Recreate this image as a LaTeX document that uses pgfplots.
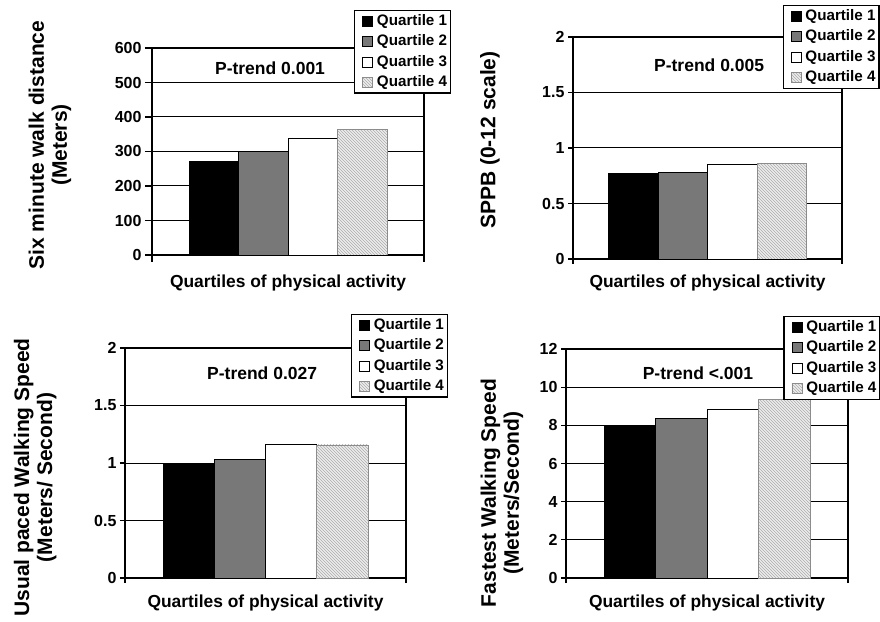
\documentclass[border=0pt]{standalone}
\usepackage{fontspec}
\setmainfont{Liberation Sans}
\usepackage{pgfplots}
\pgfplotsset{compat=1.18}
\usetikzlibrary{patterns}
\definecolor{qgray}{gray}{0.47}
\definecolor{qlight}{gray}{0.93}
\definecolor{qedge}{gray}{0.55}
\tikzset{ptrend/.style={font=\fontsize{17.5}{17.5}\selectfont\bfseries}}
\pgfplotsset{
  sqleg/.style={legend image code/.code={\path (-5pt,0pt) (13pt,0pt);\draw[##1,line width=0.8pt] (0pt,-5pt) rectangle (10pt,5pt);}},
  q1/.style={fill=black, draw=black, line width=0.8pt},
  q2/.style={fill=qgray, draw=black, line width=0.8pt},
  q3/.style={fill=white, draw=black, line width=0.8pt},
  q4/.style={fill=qlight, draw=qedge, line width=0.8pt, postaction={pattern=north west lines, pattern color=gray!65}},
  panel/.style={
    scale only axis, anchor=south west,
    ybar=0pt,
    every axis plot post/.append style={sqleg},
    xmin=-1, xmax=1, xtick={-1,1}, xticklabels={},
    xtick pos=bottom, ytick pos=left, tick align=outside,
    major tick length=5pt,
    ymajorgrids, grid style={black, line width=1pt},
    axis line style={line width=1.2pt},
    every tick/.style={black, line width=1.2pt},
    ymin=0,
    /pgf/number format/assume math mode=true,
    tick label style={font=\fontsize{16}{16}\selectfont\bfseries},
    ylabel style={font=\fontsize{21}{23}\selectfont\bfseries, align=center, anchor=center},
    xlabel style={font=\fontsize{17.4}{17.4}\selectfont\bfseries, anchor=base, at={(axis description cs:0.5,0)}},
    xlabel={Quartiles of physical activity},
    legend style={draw=black, line width=1.2pt, fill=white, anchor=north west,
      font=\fontsize{15.2}{15.2}\selectfont\bfseries, inner sep=2.5pt, row sep=4.5pt,
      nodes={inner sep=1pt, text height=11pt, text depth=3pt}},
    legend cell align=left,
  }
}
\begin{document}
\begin{tikzpicture}[x=1pt,y=1pt]
\useasboundingbox (0,0) rectangle (880,621);
% Panel 1
\begin{axis}[panel, at={(152pt,366pt)}, width=272pt, height=207pt,
  bar width=49.5pt, ymax=600, ytick={0,100,200,300,400,500,600},
  major tick length=7pt,
  ylabel={Six minute walk distance\\(Meters)},
  ylabel style={at={(axis description cs:-0.375,0.531)}},
  xlabel style={yshift=-33pt},
  legend style={at={(rel axis cs:0.743,1.184)}}]
\addplot[q1] coordinates {(0,270)};
\addplot[q2] coordinates {(0,299)};
\addplot[q3] coordinates {(0,339)};
\addplot[q4] coordinates {(0,365)};
\legend{Quartile 1,Quartile 2,Quartile 3,Quartile 4}
\node[ptrend] at (rel axis cs:0.434,0.903) {P-trend 0.001};
\end{axis}
% Panel 2
\begin{axis}[panel, at={(573pt,362pt)}, width=269pt, height=222pt,
  bar width=49.5pt, ymax=2, ytick={0,0.5,1,1.5,2},
  ylabel={SPPB (0-12 scale)},
  ylabel style={at={(axis description cs:-0.309,0.536)}},
  xlabel style={yshift=-29pt},
  legend style={at={(rel axis cs:0.779,1.144)}}]
\addplot[q1] coordinates {(0,0.775)};
\addplot[q2] coordinates {(0,0.78)};
\addplot[q3] coordinates {(0,0.853)};
\addplot[q4] coordinates {(0,0.859)};
\legend{Quartile 1,Quartile 2,Quartile 3,Quartile 4}
\node[ptrend] at (rel axis cs:0.506,0.874) {P-trend 0.005};
\end{axis}
% Panel 3
\begin{axis}[panel, at={(125pt,43pt)}, width=281pt, height=230pt,
  bar width=51.25pt, ymax=2, ytick={0,0.5,1,1.5,2},
  ylabel={Usual paced Walking Speed\\(Meters/ Second)},
  ylabel style={at={(axis description cs:-0.320,0.437)}},
  xlabel style={yshift=-29pt},
  legend style={at={(rel axis cs:0.804,1.148)}}]
\addplot[q1] coordinates {(0,1.0)};
\addplot[q2] coordinates {(0,1.035)};
\addplot[q3] coordinates {(0,1.163)};
\addplot[q4] coordinates {(0,1.157)};
\legend{Quartile 1,Quartile 2,Quartile 3,Quartile 4}
\node[ptrend] at (rel axis cs:0.488,0.891) {P-trend 0.027};
\end{axis}
% Panel 4
\begin{axis}[panel, at={(566pt,43pt)}, width=282pt, height=229pt,
  bar width=51.5pt, ymax=12, ytick={0,2,4,6,8,10,12},
  ylabel={Fastest Walking Speed\\(Meters/Second)},
  ylabel style={at={(axis description cs:-0.227,0.371)}},
  xlabel style={yshift=-29pt},
  legend style={at={(rel axis cs:0.771,1.144)}}]
\addplot[q1] coordinates {(0,7.99)};
\addplot[q2] coordinates {(0,8.34)};
\addplot[q3] coordinates {(0,8.84)};
\addplot[q4] coordinates {(0,9.35)};
\legend{Quartile 1,Quartile 2,Quartile 3,Quartile 4}
\node[ptrend] at (rel axis cs:0.468,0.895) {P-trend <.001};
\end{axis}
\end{tikzpicture}
\end{document}
